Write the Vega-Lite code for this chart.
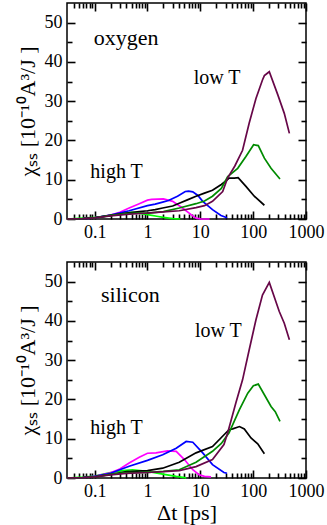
{
  "$schema": "https://vega.github.io/schema/vega-lite/v6.json",
  "padding": {"left": 15, "top": 1, "right": 5, "bottom": 2},
  "spacing": 18,
  "config": {
    "view": {"stroke": "black", "strokeWidth": 1.5},
    "axis": {
      "domain": false, "grid": false, "ticks": true, "tickColor": "black", "tickWidth": 1.6, "tickOpacity": 1, "tickRound": true, "zindex": 1,
      "labelFont": "Liberation Serif", "labelFontSize": 18, "labelColor": "black",
      "titleFont": "Liberation Serif", "titleFontSize": 22, "titleFontWeight": "normal", "titleColor": "black",
      "labelFlush": false, "labelOverlap": false
    },
    "text": {"font": "Liberation Serif", "color": "black"}
  },
  "datasets": {
    "oxygen": [
      {"s": "lime", "t": 0.03, "chi": 0}, {"s": "lime", "t": 0.06, "chi": 0.2}, {"s": "lime", "t": 0.1, "chi": 0.4}, {"s": "lime", "t": 0.19, "chi": 0.8}, {"s": "lime", "t": 0.34, "chi": 1.4}, {"s": "lime", "t": 0.5, "chi": 1.7}, {"s": "lime", "t": 0.61, "chi": 1.6}, {"s": "lime", "t": 1.0, "chi": 1.1}, {"s": "lime", "t": 1.5, "chi": 0.7}, {"s": "lime", "t": 2.0, "chi": 0.4}, {"s": "lime", "t": 3.0, "chi": 0.1}, {"s": "lime", "t": 4.2, "chi": 0},
      {"s": "magenta", "t": 0.03, "chi": 0}, {"s": "magenta", "t": 0.06, "chi": 0.1}, {"s": "magenta", "t": 0.1, "chi": 0.3}, {"s": "magenta", "t": 0.2, "chi": 1.0}, {"s": "magenta", "t": 0.3, "chi": 1.7}, {"s": "magenta", "t": 0.45, "chi": 2.8}, {"s": "magenta", "t": 0.7, "chi": 3.9}, {"s": "magenta", "t": 1.0, "chi": 4.8}, {"s": "magenta", "t": 1.2, "chi": 5.0}, {"s": "magenta", "t": 2.0, "chi": 5.1}, {"s": "magenta", "t": 3.0, "chi": 4.5}, {"s": "magenta", "t": 4.6, "chi": 2.8}, {"s": "magenta", "t": 6.7, "chi": 1.1}, {"s": "magenta", "t": 8.3, "chi": 0.2}, {"s": "magenta", "t": 10, "chi": 0.05}, {"s": "magenta", "t": 15, "chi": 0},
      {"s": "blue", "t": 0.03, "chi": 0}, {"s": "blue", "t": 0.06, "chi": 0.1}, {"s": "blue", "t": 0.1, "chi": 0.3}, {"s": "blue", "t": 0.2, "chi": 1.0}, {"s": "blue", "t": 0.45, "chi": 2.1}, {"s": "blue", "t": 1.0, "chi": 3.4}, {"s": "blue", "t": 1.4, "chi": 3.8}, {"s": "blue", "t": 1.94, "chi": 4.3}, {"s": "blue", "t": 2.5, "chi": 4.7}, {"s": "blue", "t": 3.7, "chi": 5.8}, {"s": "blue", "t": 5.2, "chi": 7.0}, {"s": "blue", "t": 6.0, "chi": 7.1}, {"s": "blue", "t": 7.2, "chi": 6.9}, {"s": "blue", "t": 9, "chi": 6.0}, {"s": "blue", "t": 11.1, "chi": 4.5}, {"s": "blue", "t": 17, "chi": 2.4}, {"s": "blue", "t": 24.6, "chi": 0.9}, {"s": "blue", "t": 32, "chi": 0.3},
      {"s": "black", "t": 0.03, "chi": 0}, {"s": "black", "t": 0.06, "chi": 0.1}, {"s": "black", "t": 0.1, "chi": 0.3}, {"s": "black", "t": 0.2, "chi": 0.9}, {"s": "black", "t": 0.4, "chi": 1.5}, {"s": "black", "t": 0.7, "chi": 1.9}, {"s": "black", "t": 1.0, "chi": 2.1}, {"s": "black", "t": 1.4, "chi": 2.4}, {"s": "black", "t": 1.94, "chi": 2.8}, {"s": "black", "t": 3, "chi": 3.3}, {"s": "black", "t": 4, "chi": 4.0}, {"s": "black", "t": 6, "chi": 5.0}, {"s": "black", "t": 8.3, "chi": 5.8}, {"s": "black", "t": 12, "chi": 6.6}, {"s": "black", "t": 17, "chi": 7.3}, {"s": "black", "t": 25, "chi": 8.8}, {"s": "black", "t": 30, "chi": 9.6}, {"s": "black", "t": 35, "chi": 10.4}, {"s": "black", "t": 44, "chi": 10.4}, {"s": "black", "t": 52, "chi": 10.5}, {"s": "black", "t": 73, "chi": 8.3}, {"s": "black", "t": 105, "chi": 5.8}, {"s": "black", "t": 163, "chi": 3.5},
      {"s": "green", "t": 0.03, "chi": 0}, {"s": "green", "t": 0.06, "chi": 0.1}, {"s": "green", "t": 0.1, "chi": 0.3}, {"s": "green", "t": 0.2, "chi": 0.9}, {"s": "green", "t": 0.4, "chi": 1.4}, {"s": "green", "t": 0.7, "chi": 1.5}, {"s": "green", "t": 1.0, "chi": 1.5}, {"s": "green", "t": 2.0, "chi": 1.9}, {"s": "green", "t": 4.0, "chi": 2.8}, {"s": "green", "t": 8.3, "chi": 3.9}, {"s": "green", "t": 12, "chi": 4.6}, {"s": "green", "t": 17, "chi": 5.8}, {"s": "green", "t": 25, "chi": 7.8}, {"s": "green", "t": 33, "chi": 10.8}, {"s": "green", "t": 51, "chi": 12.9}, {"s": "green", "t": 73, "chi": 15.9}, {"s": "green", "t": 102, "chi": 18.9}, {"s": "green", "t": 125, "chi": 18.7}, {"s": "green", "t": 163, "chi": 15.5}, {"s": "green", "t": 218, "chi": 12.9}, {"s": "green", "t": 322, "chi": 10.2},
      {"s": "maroon", "t": 0.03, "chi": 0}, {"s": "maroon", "t": 0.06, "chi": 0.1}, {"s": "maroon", "t": 0.1, "chi": 0.3}, {"s": "maroon", "t": 0.2, "chi": 0.8}, {"s": "maroon", "t": 0.4, "chi": 1.2}, {"s": "maroon", "t": 0.7, "chi": 1.4}, {"s": "maroon", "t": 1.0, "chi": 1.5}, {"s": "maroon", "t": 2.0, "chi": 1.8}, {"s": "maroon", "t": 4.0, "chi": 2.1}, {"s": "maroon", "t": 8.3, "chi": 2.9}, {"s": "maroon", "t": 12, "chi": 3.4}, {"s": "maroon", "t": 17, "chi": 4.5}, {"s": "maroon", "t": 26.5, "chi": 7.0}, {"s": "maroon", "t": 33, "chi": 10.5}, {"s": "maroon", "t": 45, "chi": 13.5}, {"s": "maroon", "t": 63, "chi": 17.5}, {"s": "maroon", "t": 84, "chi": 24.4}, {"s": "maroon", "t": 113, "chi": 30.7}, {"s": "maroon", "t": 150, "chi": 35.4}, {"s": "maroon", "t": 163, "chi": 36.5}, {"s": "maroon", "t": 202, "chi": 37.5}, {"s": "maroon", "t": 293, "chi": 31.6}, {"s": "maroon", "t": 388, "chi": 26.9}, {"s": "maroon", "t": 485, "chi": 21.8}
    ],
    "silicon": [
      {"s": "lime", "t": 0.03, "chi": 0}, {"s": "lime", "t": 0.06, "chi": 0.2}, {"s": "lime", "t": 0.1, "chi": 0.5}, {"s": "lime", "t": 0.19, "chi": 1.3}, {"s": "lime", "t": 0.34, "chi": 1.9}, {"s": "lime", "t": 0.52, "chi": 2.1}, {"s": "lime", "t": 1.0, "chi": 1.7}, {"s": "lime", "t": 1.94, "chi": 1.0}, {"s": "lime", "t": 3.5, "chi": 0.4}, {"s": "lime", "t": 5.4, "chi": 0.05},
      {"s": "magenta", "t": 0.03, "chi": 0}, {"s": "magenta", "t": 0.06, "chi": 0.1}, {"s": "magenta", "t": 0.1, "chi": 0.4}, {"s": "magenta", "t": 0.2, "chi": 1.3}, {"s": "magenta", "t": 0.3, "chi": 2.3}, {"s": "magenta", "t": 0.45, "chi": 3.8}, {"s": "magenta", "t": 0.7, "chi": 5.3}, {"s": "magenta", "t": 1.0, "chi": 6.3}, {"s": "magenta", "t": 1.45, "chi": 6.4}, {"s": "magenta", "t": 2.4, "chi": 6.9}, {"s": "magenta", "t": 3.5, "chi": 6.8}, {"s": "magenta", "t": 5.0, "chi": 4.7}, {"s": "magenta", "t": 7.2, "chi": 2.1}, {"s": "magenta", "t": 9.6, "chi": 0.8}, {"s": "magenta", "t": 12, "chi": 0.4}, {"s": "magenta", "t": 15.9, "chi": 0.3},
      {"s": "blue", "t": 0.03, "chi": 0}, {"s": "blue", "t": 0.06, "chi": 0.1}, {"s": "blue", "t": 0.1, "chi": 0.4}, {"s": "blue", "t": 0.2, "chi": 1.2}, {"s": "blue", "t": 0.45, "chi": 3.0}, {"s": "blue", "t": 1.0, "chi": 4.5}, {"s": "blue", "t": 1.94, "chi": 5.9}, {"s": "blue", "t": 3.5, "chi": 7.6}, {"s": "blue", "t": 5.4, "chi": 9.3}, {"s": "blue", "t": 7.2, "chi": 9.1}, {"s": "blue", "t": 11.1, "chi": 6.4}, {"s": "blue", "t": 17, "chi": 3.4}, {"s": "blue", "t": 28, "chi": 1.4}, {"s": "blue", "t": 32, "chi": 1.2},
      {"s": "black", "t": 0.03, "chi": 0}, {"s": "black", "t": 0.06, "chi": 0.1}, {"s": "black", "t": 0.1, "chi": 0.3}, {"s": "black", "t": 0.2, "chi": 0.9}, {"s": "black", "t": 0.4, "chi": 1.6}, {"s": "black", "t": 1.0, "chi": 1.9}, {"s": "black", "t": 1.94, "chi": 2.5}, {"s": "black", "t": 4.0, "chi": 4.0}, {"s": "black", "t": 8.3, "chi": 6.4}, {"s": "black", "t": 17, "chi": 8.0}, {"s": "black", "t": 30, "chi": 11.4}, {"s": "black", "t": 35, "chi": 12.3}, {"s": "black", "t": 41, "chi": 12.5}, {"s": "black", "t": 55, "chi": 13.1}, {"s": "black", "t": 68, "chi": 12.5}, {"s": "black", "t": 91, "chi": 10.2}, {"s": "black", "t": 122, "chi": 8.7}, {"s": "black", "t": 163, "chi": 6.2},
      {"s": "green", "t": 0.03, "chi": 0}, {"s": "green", "t": 0.06, "chi": 0.1}, {"s": "green", "t": 0.1, "chi": 0.3}, {"s": "green", "t": 0.2, "chi": 0.9}, {"s": "green", "t": 0.4, "chi": 1.4}, {"s": "green", "t": 1.0, "chi": 1.4}, {"s": "green", "t": 2.0, "chi": 1.7}, {"s": "green", "t": 4.0, "chi": 2.1}, {"s": "green", "t": 8.3, "chi": 4.0}, {"s": "green", "t": 17, "chi": 6.8}, {"s": "green", "t": 25, "chi": 8.8}, {"s": "green", "t": 35, "chi": 11.5}, {"s": "green", "t": 55, "chi": 17.4}, {"s": "green", "t": 79, "chi": 21.6}, {"s": "green", "t": 101, "chi": 23.5}, {"s": "green", "t": 125, "chi": 23.9}, {"s": "green", "t": 163, "chi": 21.2}, {"s": "green", "t": 218, "chi": 18.2}, {"s": "green", "t": 262, "chi": 16.9}, {"s": "green", "t": 322, "chi": 14.4},
      {"s": "maroon", "t": 0.03, "chi": 0}, {"s": "maroon", "t": 0.06, "chi": 0.1}, {"s": "maroon", "t": 0.1, "chi": 0.3}, {"s": "maroon", "t": 0.2, "chi": 0.8}, {"s": "maroon", "t": 0.4, "chi": 1.2}, {"s": "maroon", "t": 1.0, "chi": 1.4}, {"s": "maroon", "t": 2.0, "chi": 1.6}, {"s": "maroon", "t": 4.0, "chi": 1.9}, {"s": "maroon", "t": 8.3, "chi": 2.9}, {"s": "maroon", "t": 17, "chi": 4.7}, {"s": "maroon", "t": 28, "chi": 8.5}, {"s": "maroon", "t": 33, "chi": 11.5}, {"s": "maroon", "t": 47, "chi": 19.1}, {"s": "maroon", "t": 63, "chi": 25.0}, {"s": "maroon", "t": 84, "chi": 32.6}, {"s": "maroon", "t": 113, "chi": 40.3}, {"s": "maroon", "t": 150, "chi": 46.6}, {"s": "maroon", "t": 202, "chi": 49.8}, {"s": "maroon", "t": 312, "chi": 42.4}, {"s": "maroon", "t": 388, "chi": 39.4}, {"s": "maroon", "t": 485, "chi": 35.2}
    ],
    "lab_o": [
      {"label": "oxygen", "t": 0.096, "chi": 44.3, "size": 22},
      {"label": "low T", "t": 7.5, "chi": 34.5, "size": 20},
      {"label": "high T", "t": 0.083, "chi": 10.4, "size": 20}
    ],
    "lab_s": [
      {"label": "silicon", "t": 0.132, "chi": 44.7, "size": 22},
      {"label": "low T", "t": 7.9, "chi": 36.0, "size": 20},
      {"label": "high T", "t": 0.083, "chi": 11.3, "size": 20}
    ]
  },
  "vconcat": [
    {
      "width": 239, "height": 216,
      "resolve": {"axis": {"x": "independent", "y": "independent"}},
      "layer": [
        {
          "data": {"name": "oxygen"},
          "mark": {"type": "line", "strokeWidth": 1.7},
          "encoding": {
            "x": {"field": "t", "type": "quantitative", "scale": {"type": "log", "domain": [0.03, 1000], "nice": false},
                  "axis": {"orient": "bottom", "values": [0.1, 1, 10, 100, 1000], "format": "~g", "offset": -8, "tickSize": 8, "labelPadding": 4, "title": null}},
            "y": {"field": "chi", "type": "quantitative", "scale": {"domain": [0, 55], "nice": false, "zero": true},
                  "axis": {"orient": "left", "values": [0, 10, 20, 30, 40, 50], "offset": -8, "tickSize": 8, "labelPadding": 5, "title": "χₛₛ [10⁻¹⁰A³/J ]", "titlePadding": 5}},
            "color": {"field": "s", "type": "nominal", "legend": null,
                      "scale": {"domain": ["lime", "magenta", "blue", "black", "green", "maroon"], "range": ["#00ff00", "#ff00ff", "#0000ff", "#000000", "#008b00", "#670748"]}},
            "order": {"field": "t", "type": "quantitative"}
          }
        },
        {
          "data": {"name": "oxygen"},
          "mark": {"type": "point", "opacity": 0},
          "encoding": {
            "x": {"field": "t", "type": "quantitative", "axis": {"orient": "bottom", "values": [0.04, 0.05, 0.06, 0.07, 0.08, 0.09, 0.2, 0.3, 0.4, 0.5, 0.6, 0.7, 0.8, 0.9, 2, 3, 4, 5, 6, 7, 8, 9, 20, 30, 40, 50, 60, 70, 80, 90, 200, 300, 400, 500, 600, 700, 800, 900], "labels": false, "offset": -5, "tickSize": 5, "title": null}},
            "y": {"field": "chi", "type": "quantitative", "axis": {"orient": "left", "values": [5, 15, 25, 35, 45], "labels": false, "offset": -5, "tickSize": 5, "title": null}}
          }
        },
        {
          "data": {"name": "oxygen"},
          "mark": {"type": "point", "opacity": 0},
          "encoding": {
            "x": {"field": "t", "type": "quantitative", "axis": {"orient": "top", "values": [0.1, 1, 10, 100, 1000], "labels": false, "offset": -8, "tickSize": 8, "title": null}},
            "y": {"field": "chi", "type": "quantitative", "axis": {"orient": "right", "values": [0, 10, 20, 30, 40, 50], "labels": false, "offset": -8, "tickSize": 8, "title": null}}
          }
        },
        {
          "data": {"name": "oxygen"},
          "mark": {"type": "point", "opacity": 0},
          "encoding": {
            "x": {"field": "t", "type": "quantitative", "axis": {"orient": "top", "values": [0.04, 0.05, 0.06, 0.07, 0.08, 0.09, 0.2, 0.3, 0.4, 0.5, 0.6, 0.7, 0.8, 0.9, 2, 3, 4, 5, 6, 7, 8, 9, 20, 30, 40, 50, 60, 70, 80, 90, 200, 300, 400, 500, 600, 700, 800, 900], "labels": false, "offset": -5, "tickSize": 5, "title": null}},
            "y": {"field": "chi", "type": "quantitative", "axis": {"orient": "right", "values": [5, 15, 25, 35, 45], "labels": false, "offset": -5, "tickSize": 5, "title": null}}
          }
        },
        {
          "data": {"name": "lab_o"},
          "mark": {"type": "text", "align": "left", "baseline": "alphabetic"},
          "encoding": {
            "x": {"field": "t", "type": "quantitative", "axis": null},
            "y": {"field": "chi", "type": "quantitative", "axis": null},
            "text": {"field": "label"},
            "size": {"field": "size", "type": "quantitative", "scale": null}
          }
        }
      ]
    },
    {
      "width": 239, "height": 216,
      "resolve": {"axis": {"x": "independent", "y": "independent"}},
      "layer": [
        {
          "data": {"name": "silicon"},
          "mark": {"type": "line", "strokeWidth": 1.7},
          "encoding": {
            "x": {"field": "t", "type": "quantitative", "scale": {"type": "log", "domain": [0.03, 1000], "nice": false},
                  "axis": {"orient": "bottom", "values": [0.1, 1, 10, 100, 1000], "format": "~g", "offset": -8, "tickSize": 8, "labelPadding": 4, "title": "Δt [ps]", "titlePadding": 2}},
            "y": {"field": "chi", "type": "quantitative", "scale": {"domain": [0, 55], "nice": false, "zero": true},
                  "axis": {"orient": "left", "values": [0, 10, 20, 30, 40, 50], "offset": -8, "tickSize": 8, "labelPadding": 5, "title": "χₛₛ [10⁻¹⁰A³/J ]", "titlePadding": 5}},
            "color": {"field": "s", "type": "nominal", "legend": null,
                      "scale": {"domain": ["lime", "magenta", "blue", "black", "green", "maroon"], "range": ["#00ff00", "#ff00ff", "#0000ff", "#000000", "#008b00", "#670748"]}},
            "order": {"field": "t", "type": "quantitative"}
          }
        },
        {
          "data": {"name": "silicon"},
          "mark": {"type": "point", "opacity": 0},
          "encoding": {
            "x": {"field": "t", "type": "quantitative", "axis": {"orient": "bottom", "values": [0.04, 0.05, 0.06, 0.07, 0.08, 0.09, 0.2, 0.3, 0.4, 0.5, 0.6, 0.7, 0.8, 0.9, 2, 3, 4, 5, 6, 7, 8, 9, 20, 30, 40, 50, 60, 70, 80, 90, 200, 300, 400, 500, 600, 700, 800, 900], "labels": false, "offset": -5, "tickSize": 5, "title": null}},
            "y": {"field": "chi", "type": "quantitative", "axis": {"orient": "left", "values": [5, 15, 25, 35, 45], "labels": false, "offset": -5, "tickSize": 5, "title": null}}
          }
        },
        {
          "data": {"name": "silicon"},
          "mark": {"type": "point", "opacity": 0},
          "encoding": {
            "x": {"field": "t", "type": "quantitative", "axis": {"orient": "top", "values": [0.1, 1, 10, 100, 1000], "labels": false, "offset": -8, "tickSize": 8, "title": null}},
            "y": {"field": "chi", "type": "quantitative", "axis": {"orient": "right", "values": [0, 10, 20, 30, 40, 50], "labels": false, "offset": -8, "tickSize": 8, "title": null}}
          }
        },
        {
          "data": {"name": "silicon"},
          "mark": {"type": "point", "opacity": 0},
          "encoding": {
            "x": {"field": "t", "type": "quantitative", "axis": {"orient": "top", "values": [0.04, 0.05, 0.06, 0.07, 0.08, 0.09, 0.2, 0.3, 0.4, 0.5, 0.6, 0.7, 0.8, 0.9, 2, 3, 4, 5, 6, 7, 8, 9, 20, 30, 40, 50, 60, 70, 80, 90, 200, 300, 400, 500, 600, 700, 800, 900], "labels": false, "offset": -5, "tickSize": 5, "title": null}},
            "y": {"field": "chi", "type": "quantitative", "axis": {"orient": "right", "values": [5, 15, 25, 35, 45], "labels": false, "offset": -5, "tickSize": 5, "title": null}}
          }
        },
        {
          "data": {"name": "lab_s"},
          "mark": {"type": "text", "align": "left", "baseline": "alphabetic"},
          "encoding": {
            "x": {"field": "t", "type": "quantitative", "axis": null},
            "y": {"field": "chi", "type": "quantitative", "axis": null},
            "text": {"field": "label"},
            "size": {"field": "size", "type": "quantitative", "scale": null}
          }
        }
      ]
    }
  ]
}
